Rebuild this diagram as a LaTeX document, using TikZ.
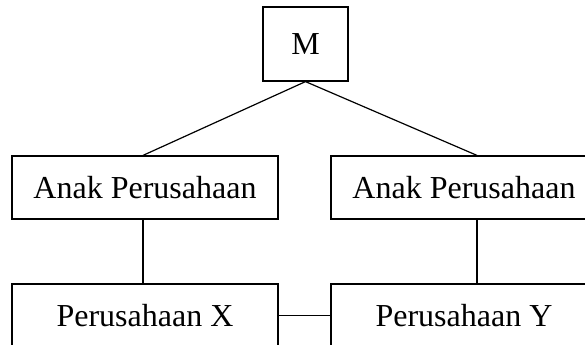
\documentclass[tikz,border=0pt]{standalone}
\usepackage{fontspec}
\setmainfont{Liberation Serif}
\usepackage{tikz}
\usetikzlibrary{positioning}

\begin{document}
\begin{tikzpicture}[
    x=0.5pt, y=0.5pt,
    box/.style={draw, line width=0.6pt, inner sep=0pt, minimum width=133pt, minimum height=31.5pt, font=\fontsize{16}{19}\selectfont},
    holding/.style={box, minimum width=42.5pt, minimum height=37pt},
    link/.style={line width=0.6pt}
]
\clip (0,0) rectangle (585,344);

% Parent company
\node[holding] (m) at (305.5,300) {M};

% Subsidiaries
\node[box] (anakL) at (145,156.5) {Anak Perusahaan};
\node[box] (anakR) at (464,156.5) {Anak Perusahaan};

% Companies below
\node[box] (perX) at (145,28.5) {Perusahaan X};
\node[box] (perY) at (464,28.5) {Perusahaan Y};

% Connections
\draw[link] (m.south) -- ([xshift=-1pt]anakL.north);
\draw[link] (m.south) -- ([xshift=6.5pt]anakR.north);
\draw[link] ([xshift=-1pt]anakL.south) -- ([xshift=-1pt]perX.north);
\draw[link] ([xshift=6.5pt]anakR.south) -- ([xshift=6.5pt]perY.north);
\draw[link] (perX) -- (perY);

\end{tikzpicture}
\end{document}
